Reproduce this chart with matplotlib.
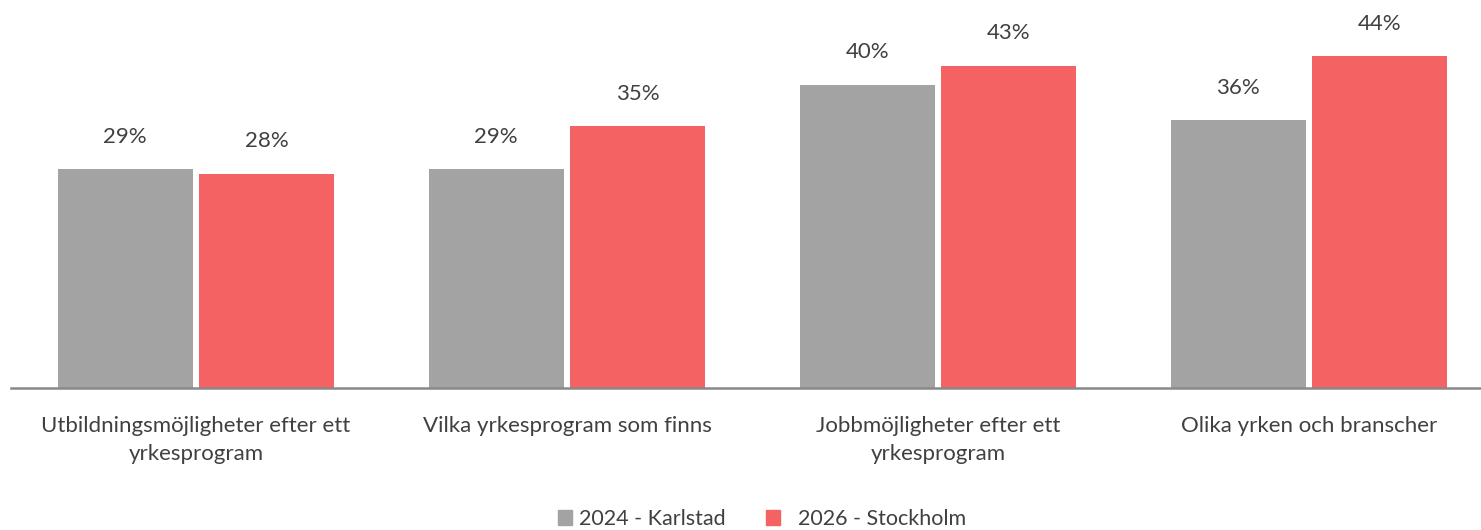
import numpy as np
import matplotlib
matplotlib.use('Agg')
import matplotlib.pyplot as plt
from matplotlib.patches import Patch

plt.rcParams['font.family'] = ['Lato', 'DejaVu Sans']

categories = ['Utbildningsmöjligheter efter ett\nyrkesprogram',
              'Vilka yrkesprogram som finns',
              'Jobbmöjligheter efter ett\nyrkesprogram',
              'Olika yrken och branscher']
karlstad_2024 = [0.290, 0.290, 0.402, 0.355]
stockholm_2026 = [0.284, 0.347, 0.427, 0.440]
series_names = ['2024 - Karlstad', '2026 - Stockholm']

gray = '#A3A3A3'
red = '#F46264'
text_col = '#404040'

fig = plt.figure(figsize=(14.81, 5.30), dpi=100)
# axes runs a bit past the right edge, like the original export
ax = fig.add_axes([10.5 / 1481, 1 - 388 / 530, 1484 / 1481, (388 - 11) / 530])

x = np.arange(len(categories))
w = 0.364
off = 0.191
b1 = ax.bar(x - off, karlstad_2024, w, color=gray)
b2 = ax.bar(x + off, stockholm_2026, w, color=red)

for bars in (b1, b2):
    for rect in bars:
        h = rect.get_height()
        ax.annotate(f'{h * 100:.0f}%', (rect.get_x() + rect.get_width() / 2, h),
                    xytext=(0, 23.5), textcoords='offset points',
                    ha='center', va='center', fontsize=16, color=text_col)

ax.set_xlim(-0.5, len(categories) - 0.5)
ax.set_ylim(0, 0.5)
ax.set_yticks([])
ax.set_xticks(x)
ax.set_xticklabels(categories, fontsize=16, color=text_col, linespacing=1.45)
ax.tick_params(axis='x', length=0, pad=20.5)
for s in ['top', 'right', 'left']:
    ax.spines[s].set_visible(False)
ax.spines['bottom'].set_color('#898989')
ax.spines['bottom'].set_linewidth(1.8)

handles = [Patch(color=gray), Patch(color=red)]
labels = [series_names[0], '  ' + series_names[1]]
fig.legend(handles, labels, loc='center', bbox_to_anchor=(762 / 1481, 1 - 519 / 530),
           ncol=2, frameon=False, fontsize=15.5, labelcolor=text_col,
           handlelength=0.65, handleheight=0.65, handletextpad=0.3, columnspacing=1.9,
           borderaxespad=0, borderpad=0)

fig.savefig('out.png', dpi=100)
